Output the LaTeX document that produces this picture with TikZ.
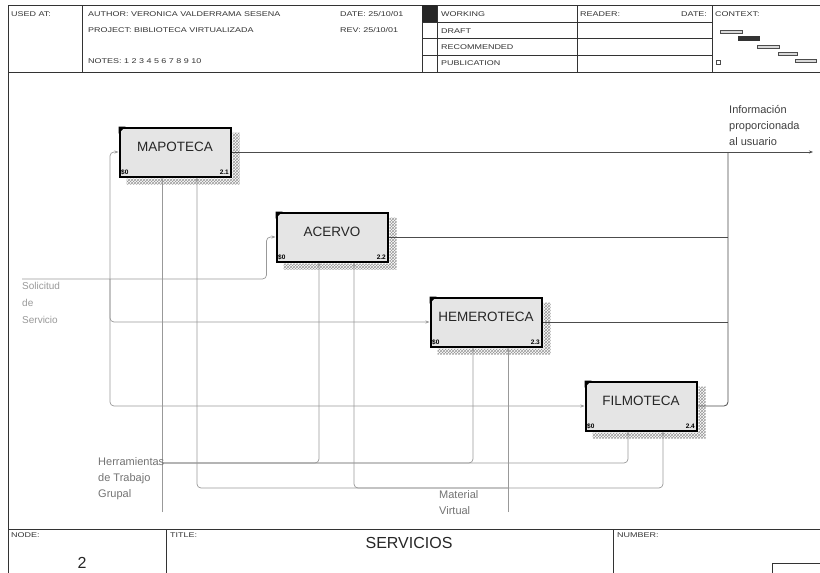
\documentclass[tikz,border=0pt]{standalone}
\usepackage{fontspec}
\setmainfont{Liberation Sans}
\newfontfamily\hdrfont[FakeStretch=1.3]{Liberation Sans}
\usetikzlibrary{patterns,arrows.meta}
\newcommand\idefbox[5]{%
  \node[fnbox] (#1) at (#2) {};
  \path[pattern=crosshatch, pattern color=black!40]
    ([shift={(1.2pt,-6pt)}]#1.north east) -- ([shift={(8pt,-6pt)}]#1.north east)
    -- ([shift={(8pt,-7pt)}]#1.south east) -- ([shift={(8pt,-7pt)}]#1.south west)
    -- ([shift={(8pt,-1.2pt)}]#1.south west) -- ([shift={(1.2pt,-1.2pt)}]#1.south east) -- cycle;
  \fill[black] (#1.north west) -- ++(7pt,0pt) -- ++(-7pt,-7pt) -- cycle;
  \node[fnlbl] (#1-t) at ([yshift=5pt]#1.center) {#3};
  \node[cornerlbl, anchor=south west] (#1-c) at ([shift={(2.5pt,2.5pt)}]#1.south west) {#4};
  \node[cornerlbl, anchor=south east] (#1-n) at ([shift={(-2.5pt,2.5pt)}]#1.south east) {#5};
}
\begin{document}
\begin{tikzpicture}[x=1pt,y=-1pt,
  frame/.style={draw=black!80, line width=0.9pt},
  hdr/.style={font=\hdrfont\fontsize{6.9}{7}\selectfont, anchor=west, inner sep=0pt, text=black!80},
  fnbox/.style={draw=black, line width=2pt, fill=black!10, minimum width=111pt, minimum height=49pt, inner sep=0pt},
  fnlbl/.style={font=\fontsize{13.5}{14}\selectfont, text=black!85},
  cornerlbl/.style={font=\fontsize{6.5}{7}\selectfont\bfseries, inner sep=0pt},
  outline/.style={draw=black!70, line width=0.8pt, rounded corners=4pt},
  inline/.style={draw=black!40, line width=0.7pt, rounded corners=4pt},
  tip/.style={-{Stealth[length=4pt,width=3pt]}},
  arrlbl/.style={font=\fontsize{11}{16}\selectfont, align=left, anchor=north west, inner sep=0pt},
]
\useasboundingbox (0,0) rectangle (820,573);
\fill[white] (0,0) rectangle (820,573);

% ---------- header ----------
\draw[frame] (8,5) -- (820,5);
\draw[frame] (8,72) -- (820,72);
\draw[frame] (8,5) -- (8,573);
\draw[frame] (82,5) -- (82,72);
\draw[frame] (422,5) -- (422,72);
\draw[frame] (437,5) -- (437,72);
\draw[frame] (577,5) -- (577,72);
\draw[frame] (712,5) -- (712,72);
\draw[frame] (422,22) -- (712,22);
\draw[frame] (422,38) -- (712,38);
\draw[frame] (422,55) -- (712,55);
\fill[black!85] (422,5) rectangle (437,22);

\node[hdr] (usedat) at (11,14) {USED AT:};
\node[hdr] (author) at (88,14) {AUTHOR: VERONICA VALDERRAMA SESENA};
\node[hdr] (date1) at (340,14) {DATE: 25/10/01};
\node[hdr] (project) at (88,30) {PROJECT: BIBLIOTECA VIRTUALIZADA};
\node[hdr] (rev) at (340,30) {REV: 25/10/01};
\node[hdr] (notes) at (88,61) {NOTES: 1 2 3 4 5 6 7 8 9 10};
\node[hdr] (working) at (441,14) {WORKING};
\node[hdr] (draft) at (441,31) {DRAFT};
\node[hdr] (recom) at (441,47) {RECOMMENDED};
\node[hdr] (public) at (441,63) {PUBLICATION};
\node[hdr] (reader) at (580,14) {READER:};
\node[hdr] (date2) at (681,14) {DATE:};
\node[hdr] (context) at (715,14) {CONTEXT:};

% context bars
\filldraw[draw=black!70, fill=black!15, line width=0.4pt] (720,30) rectangle (742,33.5);
\filldraw[draw=black!80, fill=black!80, line width=0.4pt] (738,36) rectangle (759,40);
\filldraw[draw=black!70, fill=black!15, line width=0.4pt] (757,45) rectangle (779,48.5);
\filldraw[draw=black!70, fill=black!15, line width=0.4pt] (778,52) rectangle (797,55.5);
\filldraw[draw=black!70, fill=black!15, line width=0.4pt] (795,59) rectangle (816,62.5);
\draw[black!70, line width=0.5pt] (716,60) rectangle (720,64);

% ---------- footer ----------
\draw[frame] (8,529) -- (820,529);
\draw[frame] (166,529) -- (166,573);
\draw[frame] (613,529) -- (613,573);
\draw[frame] (772,563) rectangle (830,590);
\node[hdr] (nodelbl) at (11,535) {NODE:};
\node[hdr] (titlelbl) at (170,535) {TITLE:};
\node[hdr] (numberlbl) at (617,535) {NUMBER:};
\node[font=\fontsize{16}{18}\selectfont, text=black!85] (nodenum) at (82,563) {2};
\node[font=\fontsize{16}{18}\selectfont, text=black!85] (title) at (409,543) {SERVICIOS};

% ---------- activity boxes ----------
\idefbox{mapo}{175,152}{MAPOTECA}{\$0}{2.1}
\idefbox{acer}{332,237}{ACERVO}{\$0}{2.2}
\idefbox{heme}{486,322}{HEMEROTECA}{\$0}{2.3}
\idefbox{film}{641,406}{FILMOTECA}{\$0}{2.4}

% ---------- outputs ----------
\coordinate (oc) at (728,152);
\coordinate (outend) at (813,152);
\draw[outline, tip] (mapo.east) -- (outend);
\draw[outline] (acer.east) -- (acer.east -| oc);
\draw[outline] (heme.east) -- (heme.east -| oc);
\draw[outline] (film.east) -| (oc);

% ---------- inputs ----------
\coordinate (sol) at (22,279);
\coordinate (bus) at (110,279);
\draw[inline, tip] (sol) -| ([xshift=-9pt]acer.west) -- (acer.west);
\draw[inline, tip] (bus) |- (mapo.west);
\draw[inline, tip] (bus) |- (heme.west);
\draw[inline, tip] (bus) |- (film.west);

% ---------- mechanisms ----------
\coordinate (herr) at (162,512);
\coordinate (hj) at (162,463);
\draw[inline, tip] (herr) -- (herr |- mapo.south);
\draw[inline, tip] (hj) -| ([xshift=-13pt]acer.south);
\draw[inline, tip] (hj) -| ([xshift=-13pt]heme.south);
\draw[inline, tip] (hj) -| ([xshift=-13pt]film.south);

\coordinate (mat) at (508,512);
\coordinate (mj) at (508,488);
\draw[inline, tip] (mat) -- (mat |- heme.south);
\draw[inline, tip] (mj) -| ([xshift=22pt]mapo.south);
\draw[inline, tip] (mj) -| ([xshift=22pt]acer.south);
\draw[inline, tip] (mj) -| ([xshift=22pt]film.south);

% ---------- arrow labels ----------
\node[arrlbl, text=black!40, font=\fontsize{10}{17}\selectfont] (solL) at (22,282) {Solicitud\\de\\Servicio};
\node[arrlbl, text=black!55] (herrL) at (98,457) {Herramientas\\de Trabajo\\Grupal};
\node[arrlbl, text=black!55] (matL) at (439,490) {Material\\Virtual};
\node[arrlbl, text=black!75] (infoL) at (729,105) {Información\\proporcionada\\al usuario};
\end{tikzpicture}
\end{document}
